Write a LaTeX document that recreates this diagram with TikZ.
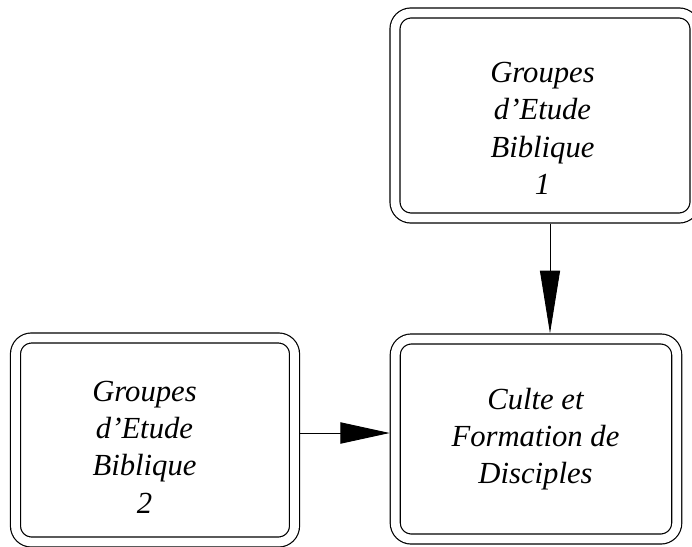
\documentclass[tikz,border=0pt]{standalone}
\usepackage{fontspec}
\setmainfont{Liberation Serif}
\usetikzlibrary{arrows.meta}
\tikzset{
  dblbox/.style={draw, line width=0.9pt, double, double distance=6.6pt,
    rounded corners=12pt, outer sep=4.2pt, inner sep=0pt},
  boxtext/.style={align=center, inner sep=0pt, font=\fontsize{23}{28}\selectfont\itshape},
  conn/.style={line width=0.7pt}
}
\begin{document}
\begin{tikzpicture}[x=0.75pt,y=0.75pt,yscale=-1,xscale=1]
    \useasboundingbox (0,0) rectangle (692,546);

    %Shape: Double Rounded Rectangle [geb1]
    \node [dblbox, minimum width=225pt, minimum height=153.75pt] (geb1) at (545,115.5) {};
    %Shape: Double Rounded Rectangle [geb2]
    \node [dblbox, minimum width=209.25pt, minimum height=153pt] (geb2) at (155,440) {};
    %Shape: Double Rounded Rectangle [cdf]
    \node [dblbox, minimum width=211.1pt, minimum height=150pt] (cdf) at (536,439) {};

    % Text Node
    \node [boxtext] (geb1txt) at (542.5,128.5) {Groupes\\d'Etude\\Biblique\\1};
    % Text Node
    \node [boxtext] (geb2txt) at (144.5,447) {Groupes\\d'Etude\\Biblique\\2};
    % Text Node
    \node [boxtext] (cdftxt) at (535.5,439) {Culte et\\Formation de\\Disciples};

    %Straight Lines
    \coordinate (a) at (550,433);
    \draw [conn, -{Triangle[length=47pt,width=15pt]}] (geb1.south -| a) -- (cdf.north -| a);
    \draw [conn, -{Triangle[length=37pt,width=16pt]}] (geb2.east |- a) -- (cdf.west |- a);
\end{tikzpicture}
\end{document}
